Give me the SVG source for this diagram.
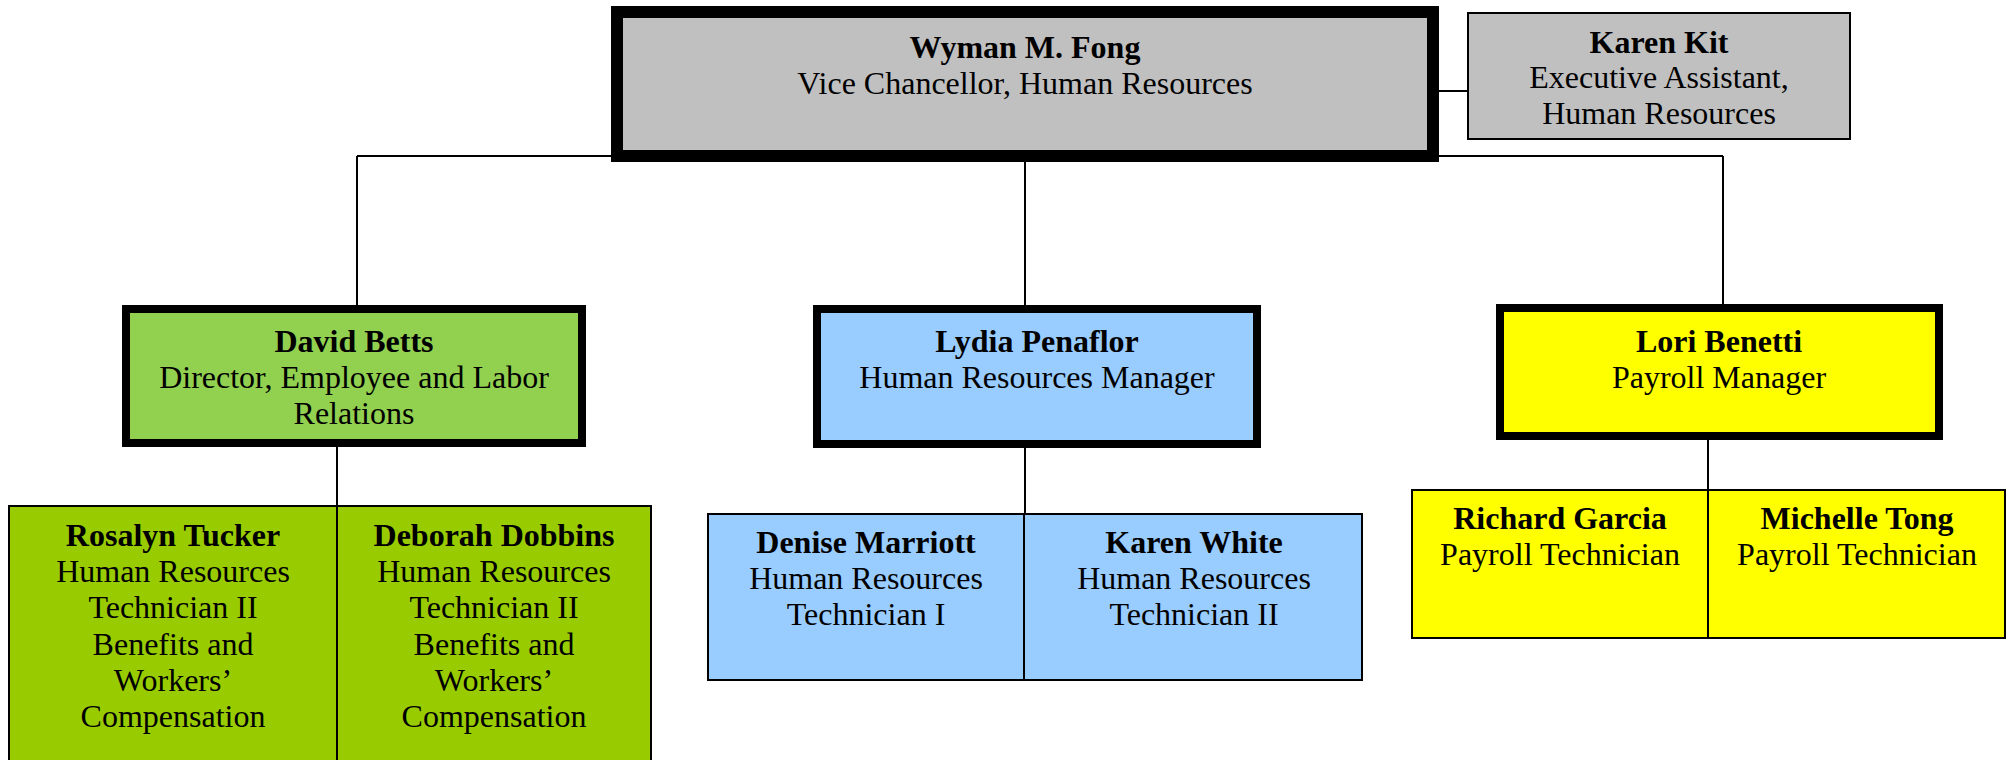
<svg xmlns="http://www.w3.org/2000/svg" width="2015" height="760" viewBox="0 0 2015 760">
<style>
text{font-family:"Liberation Serif","Times New Roman",serif;font-size:32px;text-anchor:middle;fill:#000}
.n{font-weight:bold}
.thick{stroke:#000;stroke-width:8}
.thin{stroke:#000;stroke-width:2}
.gray{fill:#C0C0C0}
.green{fill:#92D050}
.lgreen{fill:#99CC00}
.blue{fill:#99CCFF}
.yellow{fill:#FFFF00}
.conn{stroke:#000;stroke-width:2;fill:none}
</style>
<rect width="2015" height="760" fill="#fff"/>
<g id="connectors">
<path class="conn" d="M357 156H1723"/>
<path class="conn" d="M357 156V305"/>
<path class="conn" d="M1025 162V305"/>
<path class="conn" d="M1723 156V304"/>
<path class="conn" d="M1439 91H1467"/>
<path class="conn" d="M337 447V506"/>
<path class="conn" d="M1025 448V514"/>
<path class="conn" d="M1708 440V490"/>
</g>
<g id="wyman">
<rect x="617" y="12" width="816" height="144" class="gray" stroke="#000" stroke-width="12"/>
<text x="1025" y="58" class="n">Wyman M. Fong</text>
<text x="1025" y="94">Vice Chancellor, Human Resources</text>
</g>
<g id="karen-kit">
<rect x="1468" y="13" width="382" height="126" class="gray thin"/>
<text x="1659" y="53" class="n">Karen Kit</text>
<text x="1659" y="88">Executive Assistant,</text>
<text x="1659" y="124">Human Resources</text>
</g>
<g id="david-betts">
<rect x="126" y="309" width="456" height="134" class="green thick"/>
<text x="354" y="352" class="n">David Betts</text>
<text x="354" y="388">Director, Employee and Labor</text>
<text x="354" y="424">Relations</text>
</g>
<g id="lydia-penaflor">
<rect x="817" y="309" width="440" height="135" class="blue thick"/>
<text x="1037" y="352" class="n">Lydia Penaflor</text>
<text x="1037" y="388">Human Resources Manager</text>
</g>
<g id="lori-benetti">
<rect x="1500" y="308" width="439" height="128" class="yellow thick"/>
<text x="1719" y="352" class="n">Lori Benetti</text>
<text x="1719" y="388">Payroll Manager</text>
</g>
<g id="rosalyn-tucker">
<rect x="9" y="506" width="328" height="300" class="lgreen thin"/>
<text x="173" y="546" class="n">Rosalyn Tucker</text>
<text x="173" y="582">Human Resources</text>
<text x="173" y="618">Technician II</text>
<text x="173" y="655">Benefits and</text>
<text x="173" y="691">Workers’</text>
<text x="173" y="727">Compensation</text>
</g>
<g id="deborah-dobbins">
<rect x="337" y="506" width="314" height="300" class="lgreen thin"/>
<text x="494" y="546" class="n">Deborah Dobbins</text>
<text x="494" y="582">Human Resources</text>
<text x="494" y="618">Technician II</text>
<text x="494" y="655">Benefits and</text>
<text x="494" y="691">Workers’</text>
<text x="494" y="727">Compensation</text>
</g>
<g id="denise-marriott">
<rect x="708" y="514" width="316" height="166" class="blue thin"/>
<text x="866" y="553" class="n">Denise Marriott</text>
<text x="866" y="589">Human Resources</text>
<text x="866" y="625">Technician I</text>
</g>
<g id="karen-white">
<rect x="1024" y="514" width="338" height="166" class="blue thin"/>
<text x="1194" y="553" class="n">Karen White</text>
<text x="1194" y="589">Human Resources</text>
<text x="1194" y="625">Technician II</text>
</g>
<g id="richard-garcia">
<rect x="1412" y="490" width="296" height="148" class="yellow thin"/>
<text x="1560" y="529" class="n">Richard Garcia</text>
<text x="1560" y="565">Payroll Technician</text>
</g>
<g id="michelle-tong">
<rect x="1708" y="490" width="297" height="148" class="yellow thin"/>
<text x="1857" y="529" class="n">Michelle Tong</text>
<text x="1857" y="565">Payroll Technician</text>
</g>
</svg>
